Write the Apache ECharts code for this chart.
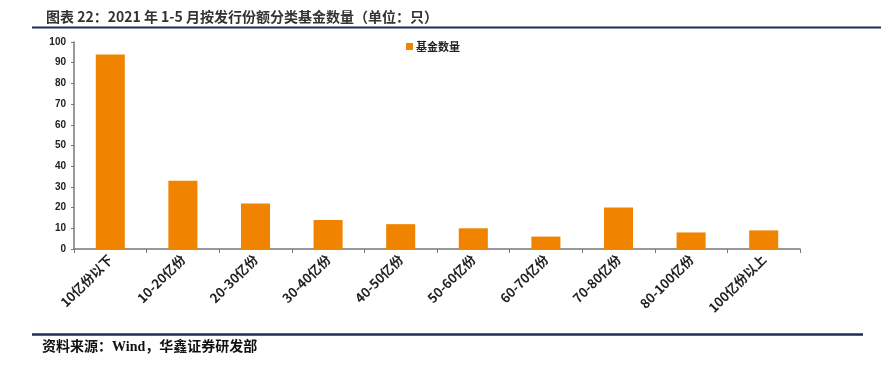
<!DOCTYPE html>
<html lang="zh">
<head>
    <meta charset="UTF-8" />
    <title>基金数量</title>
    <script src="https://cdn.jsdelivr.net/npm/echarts@6/dist/echarts.min.js"></script>
    <style>
        body { margin: 0; background: #fff; }
        #main { width: 881px; height: 365px; }
    </style>
</head>
<body>
    <div id="main"></div>
    <script>
        // 数据
        var categories = ["10亿份以下", "10-20亿份", "20-30亿份", "30-40亿份", "40-50亿份",
            "50-60亿份", "60-70亿份", "70-80亿份", "80-100亿份", "100亿份以上"];
        var fundCounts = [94, 33, 22, 14, 12, 10, 6, 20, 8, 9];
        var seriesName = "基金数量";
        var titleText = "图表 22：2021 年 1-5 月按发行份额分类基金数量（单位：只）";
        var sourceText = "资料来源：Wind，华鑫证券研发部";

        var chart = echarts.init(document.getElementById("main"));
        var cjk = "'Noto Sans CJK SC', 'Liberation Sans', sans-serif";

        var option = {
            animation: false,
            title: {
                text: titleText,
                left: 41,
                top: 5,
                textStyle: { fontSize: 14, fontWeight: "bold", color: "#333", fontFamily: cjk }
            },
            graphic: [
                { type: "line", shape: { x1: 32, y1: 27.5, x2: 881, y2: 27.5 }, style: { stroke: "#1f2d50", lineWidth: 2 } },
                { type: "line", shape: { x1: 32, y1: 334.5, x2: 863, y2: 334.5 }, style: { stroke: "#1f2d50", lineWidth: 2.5 } },
                {
                    type: "text", left: 42, top: 340,
                    style: { text: sourceText, fontSize: 14, fontWeight: "bold", fill: "#111",
                        fontFamily: "'Liberation Serif', 'Noto Sans CJK SC', serif" }
                }
            ],
            legend: {
                data: [seriesName],
                left: 401,
                top: 36,
                itemWidth: 7,
                itemHeight: 7,
                itemGap: 4,
                icon: "rect",
                textStyle: { fontSize: 11, fontWeight: "bold", color: "#222", fontFamily: cjk, padding: [0, 0, 0, -2] }
            },
            grid: { left: 74, right: 81, top: 42, bottom: 116 },
            xAxis: {
                type: "category",
                data: categories,
                axisLine: { lineStyle: { color: "#777", width: 1.5 } },
                axisTick: { show: true, length: 4, lineStyle: { color: "#777" } },
                axisLabel: {
                    rotate: 45, interval: 0, margin: 8,
                    fontSize: 13, fontWeight: "bold", color: "#222", fontFamily: cjk
                }
            },
            yAxis: {
                type: "value",
                min: 0, max: 100, interval: 10,
                splitLine: { show: false },
                axisLine: { show: true, lineStyle: { color: "#777", width: 1.5 } },
                axisTick: { show: true, length: 3, lineStyle: { color: "#777" } },
                axisLabel: { fontSize: 10, fontWeight: "bold", color: "#222", margin: 8, fontFamily: "'Liberation Sans', sans-serif" }
            },
            series: [
                {
                    name: seriesName,
                    type: "bar",
                    data: fundCounts,
                    barWidth: "40%",
                    itemStyle: { color: "#f08300" }
                }
            ]
        };
        chart.setOption(option);
    </script>
</body>
</html>
